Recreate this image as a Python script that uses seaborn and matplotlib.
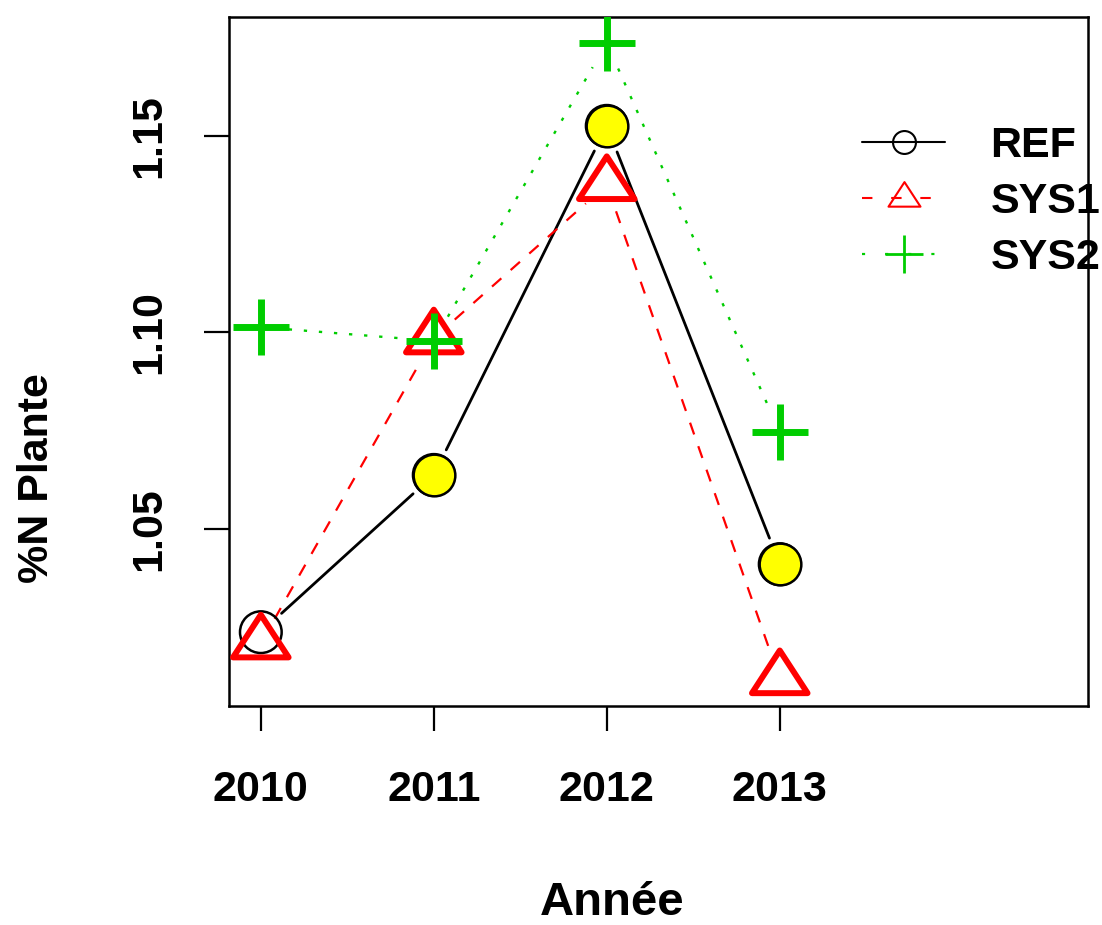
import numpy as np
import pandas as pd
import matplotlib
matplotlib.use("Agg")
import matplotlib.pyplot as plt
from matplotlib.lines import Line2D
from matplotlib.path import Path
import seaborn as sns

# ---- data ----
years = [2010, 2011, 2012, 2013]
ref = [1.0237, 1.0637, 1.1525, 1.0410]
sys1 = [1.0209, 1.0985, 1.1375, 1.0118]
sys2 = [1.1013, 1.0978, 1.1736, 1.0746]
series_names = ["REF", "SYS1", "SYS2"]
yticks = [1.05, 1.10, 1.15]
ytick_labels = ["1.05", "1.10", "1.15"]
highlight_years = [2011, 2012, 2013]   # REF points drawn filled yellow

sns.set_style("white")
FONT = ["Liberation Sans", "DejaVu Sans"]
plt.rcParams["font.family"] = FONT
plt.rcParams["font.weight"] = "bold"
plt.rcParams["text.color"] = "black"

DPI = 100
fig = plt.figure(figsize=(11.02, 9.25), dpi=DPI)
W, H = 1102, 925
ax = fig.add_axes([229 / W, 1 - 705.7 / H, (1088 - 229) / W, (705.7 - 17) / H])
ax.set_xlim(2009.816, 2014.782)
ax.set_ylim(1.0050, 1.1802)

GREEN = "#00CD00"
RED = "#FF0000"

# triangle (R pch=2 style), centroid at the point
tri = Path([(0, 28.7), (-28, -14.3), (28, -14.3), (0, 28.7)],
           [Path.MOVETO, Path.LINETO, Path.LINETO, Path.CLOSEPOLY])

df = pd.DataFrame({"year": years, "REF": ref, "SYS1": sys1, "SYS2": sys2})

GAP = 28  # px gap around points (R type="b")


def gapped_segments(xs, ys, **kw):
    tr = ax.transData
    inv = tr.inverted()
    pts = tr.transform(np.column_stack([xs, ys]))
    for i in range(len(pts) - 1):
        p0, p1 = pts[i], pts[i + 1]
        d = p1 - p0
        L = np.hypot(*d)
        if L <= 2 * GAP:
            continue
        u = d / L
        a = inv.transform(p0 + u * GAP)
        b = inv.transform(p1 - u * GAP)
        ax.plot([a[0], b[0]], [a[1], b[1]], **kw)


styles = {
    "REF": dict(color="black", lw=2.0, ls="-"),
    "SYS1": dict(color=RED, lw=1.6, ls=(0, (5.6, 5.6))),
    "SYS2": dict(color=GREEN, lw=1.7, ls=(0, (1.4, 5.0))),
}

# REF
gapped_segments(df["year"], df["REF"], **styles["REF"], zorder=2)
sns.scatterplot(data=df, x="year", y="REF", ax=ax, marker="o", s=30 ** 2,
                color="black", facecolor="none", edgecolor="black",
                linewidth=1.8, zorder=3, legend=False)
# SYS1
gapped_segments(df["year"], df["SYS1"], **styles["SYS1"], zorder=2)
sns.scatterplot(data=df, x="year", y="SYS1", ax=ax, marker=tri, s=41 ** 2,
                color=RED, facecolor="none", edgecolor=RED,
                linewidth=4.3, zorder=4, legend=False)
# SYS2
gapped_segments(df["year"], df["SYS2"], **styles["SYS2"], zorder=2)
sns.scatterplot(data=df, x="year", y="SYS2", ax=ax, marker="+", s=41 ** 2,
                color=GREEN, linewidth=5, zorder=5, legend=False)
# highlighted REF points
hl = df[df["year"].isin(highlight_years)]
sns.scatterplot(data=hl, x="year", y="REF", ax=ax, marker="o", s=30 ** 2,
                color="yellow", edgecolor="black", linewidth=1.8,
                zorder=6, legend=False)

# axes styling
for sp in ax.spines.values():
    sp.set_visible(True)
    sp.set_color("black")
    sp.set_linewidth(1.8)
ax.set_xticks(years)
ax.set_xticklabels([str(y) for y in years])
ax.set_yticks(yticks)
ax.set_yticklabels(ytick_labels, rotation=90, va="center")
ax.tick_params(axis="both", direction="out", length=18, width=1.6,
               color="black", labelsize=31, labelcolor="black")
ax.tick_params(axis="x", pad=28, bottom=True)
ax.tick_params(axis="y", pad=25, left=True)
for lab in ax.get_xticklabels() + ax.get_yticklabels():
    lab.set_fontweight("bold")
ax.set_xlabel("")
ax.set_ylabel("")

fig.text(612 / W, 1 - 903 / H, "Année", ha="center", va="center",
         fontsize=34, fontweight="bold", color="black")
fig.text(37 / W, 1 - 478 / H, "%N Plante", ha="center", va="center",
         rotation=90, fontsize=31, fontweight="bold", color="black")

# legend
handles = [
    Line2D([], [], color="black", lw=1.5, marker="o", ms=16.5,
           mfc="none", mec="black", mew=1.5),
    Line2D([], [], color=RED, lw=1.5, ls=(0, (5, 9)), marker=tri, ms=23.6,
           mfc="none", mec=RED, mew=1.5),
    Line2D([], [], color=GREEN, lw=1.6, ls=(0, (1.4, 9)), marker="+", ms=27,
           mec=GREEN, mew=2),
]
leg = ax.legend(handles, series_names, loc="upper left",
                bbox_to_anchor=(862 / W, 1 - 126 / H),
                bbox_transform=fig.transFigure, frameon=False,
                borderpad=0, borderaxespad=0, handlelength=1.93,
                handletextpad=1.05, labelspacing=0.37,
                prop=dict(family=FONT, weight="bold", size=31))
for t in leg.get_texts():
    t.set_color("black")
leg.set_clip_on(False)

fig.savefig("out.png", dpi=DPI)
